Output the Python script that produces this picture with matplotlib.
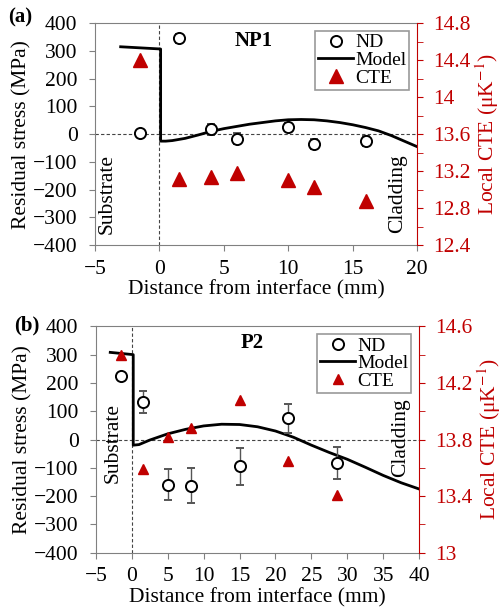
import numpy as np
import matplotlib.pyplot as plt
from matplotlib.ticker import MultipleLocator, FixedLocator
from matplotlib.lines import Line2D

plt.rcParams['font.family'] = ['Liberation Serif', 'DejaVu Serif']
plt.rcParams['mathtext.fontset'] = 'stix'

red = '#c00000'
gray = '#808080'

# panel (a) NP1
a_nd_x = [-1.5, 1.5, 4, 6, 10, 12, 16]
a_nd_y = [3, 345, 17, -17, 27, -37, -25]
a_nd_err = [12, 15, 20, 20, 15, 18, 18]
a_model_x = [-3, 0.1, 0.1, 0.5, 1, 2, 3, 4, 5, 6, 7, 8, 9, 10, 11, 12, 13, 14, 15,
             16, 17, 18, 19, 20]
a_model_y = [315, 307, -25, -25, -23, -15, -3, 10, 20, 28, 36, 42, 48, 52, 53, 52, 48,
             42, 34, 24, 12, -5, -25, -45]
a_cte_x = [-1.5, 1.5, 4, 6, 10, 12, 16]
a_cte_y = [14.40, 13.12, 13.14, 13.18, 13.11, 13.03, 12.88]

# panel (b) P2
b_nd_x = [-1.5, 1.5, 5, 8.3, 15, 21.8, 28.5]
b_nd_y = [225, 133, -160, -163, -95, 75, -83]
b_nd_err = [10, 40, 55, 62, 65, 52, 55]
b_model_x = [-3, 0.2, 0.2, 1, 2.5, 5, 7.5, 10, 12.5, 15, 17.5, 20, 22.5, 25, 27.5,
             30, 32.5, 35, 37.5, 40]
b_model_y = [308, 300, -20, -18, -2, 20, 36, 48, 54, 53, 45, 30, 8, -20, -46,
             -70, -98, -127, -153, -175]
b_cte_x = [-1.5, 1.5, 5, 8.3, 15, 21.8, 28.5]
b_cte_y = [14.40, 13.59, 13.82, 13.88, 14.08, 13.65, 13.41]

fig = plt.figure(figsize=(5.02, 6.10), dpi=100)
fs = 15.5


def panel(rect, nd_x, nd_y, nd_err, mx, my, cx, cy, xlim, cte_lim, cte_ticks, title,
          title_xy, tag, tag_xy, sub_xy, clad_xy, tri_size):
    ax = fig.add_axes(rect)
    ax.axhline(0, color='#444444', lw=0.8, ls=(0, (3, 2)))
    ax.axvline(0, color='#444444', lw=0.8, ls=(0, (3, 2)))
    ax.plot(mx, my, color='black', lw=2, zorder=3)
    ax.errorbar(nd_x, nd_y, yerr=nd_err, fmt='o', mfc='white', mec='black', mew=1.4,
                ms=8, ecolor='#555555', elinewidth=1, capsize=3, zorder=4)
    ax.set_xlim(*xlim)
    ax.set_ylim(-400, 400)
    ax.xaxis.set_major_locator(MultipleLocator(5))
    ax.yaxis.set_major_locator(MultipleLocator(100))
    ax.set_xlabel('Distance from interface (mm)', fontsize=fs, labelpad=1)
    ax.set_ylabel('Residual stress (MPa)', fontsize=fs, labelpad=1)
    ax.tick_params(axis='y', labelsize=fs, length=4.5, color=gray, pad=8)
    ax.tick_params(axis='x', labelsize=fs, length=4.5, color=gray, pad=6)
    for s in ['left', 'bottom', 'top']:
        ax.spines[s].set_color(gray)
    ax.spines['right'].set_visible(False)

    ax2 = ax.twinx()
    ax2.plot(cx, cy, '^', color=red, ms=tri_size, zorder=5)
    ax2.set_ylim(*cte_lim)
    ax2.yaxis.set_major_locator(FixedLocator(cte_ticks))
    ax2.yaxis.set_minor_locator(MultipleLocator(0.2))
    ax2.tick_params(axis='y', which='both', colors=red, labelsize=fs, length=4.5, pad=7)
    ax2.spines['right'].set_color(red)
    for s in ['left', 'bottom', 'top']:
        ax2.spines[s].set_visible(False)
    ax2.set_ylabel('Local CTE (μK$^{-1}$)', color=red, fontsize=fs, labelpad=2)
    ax2.yaxis.set_major_formatter(plt.FuncFormatter(lambda v, p: f'{v:g}'))

    ax.text(*title_xy, title, fontsize=15, fontweight='bold', ha='center', va='center')
    ax.text(*sub_xy, 'Substrate', rotation=90, fontsize=fs, ha='center', va='center')
    ax.text(*clad_xy, 'Cladding', rotation=90, fontsize=fs, ha='center', va='center')
    fig.text(*tag_xy, tag, fontsize=15, fontweight='bold', ha='left', va='center')

    handles = [Line2D([], [], ls='none', marker='o', mfc='white', mec='black', mew=1.4, ms=8),
               Line2D([], [], color='black', lw=2),
               Line2D([], [], ls='none', marker='^', color=red, ms=tri_size)]
    leg = ax2.legend(handles, ['ND', 'Model', 'CTE'],
                     loc='upper right', fontsize=14, frameon=True, fancybox=False,
                     edgecolor=gray, handlelength=1.8, handletextpad=0.1,
                     borderpad=0.15, labelspacing=0.0, borderaxespad=0.4)
    leg.get_frame().set_linewidth(1.2)
    return ax, ax2


panel([0.189, 0.598, 0.642, 0.364], a_nd_x, a_nd_y, a_nd_err, a_model_x, a_model_y,
      a_cte_x, a_cte_y, (-5, 20), (12.4, 14.8), [12.4, 12.8, 13.2, 13.6, 14.0, 14.4, 14.8],
      'NP1', (7.3, 337), '(a)', (0.016, 0.972), (-4.05, -214), (18.45, -214), 10)
panel([0.191, 0.094, 0.644, 0.371], b_nd_x, b_nd_y, b_nd_err, b_model_x, b_model_y,
      b_cte_x, b_cte_y, (-5, 40), (13.0, 14.6), [13.0, 13.4, 13.8, 14.2, 14.6],
      'P2', (16.7, 342), '(b)', (0.028, 0.467), (-2.6, -13), (37.4, 8), 7)

fig.savefig('out.png', dpi=100)
